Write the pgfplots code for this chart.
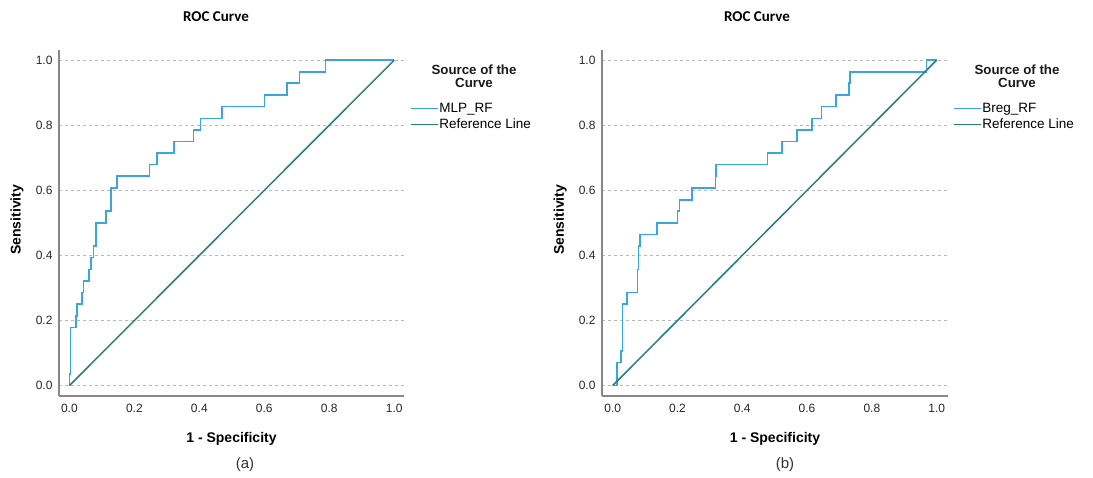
\documentclass[border=0pt]{standalone}
\usepackage{pgfplots}
\pgfplotsset{compat=1.18}
\usepackage{fontspec}
\setmainfont{Liberation Sans}
\newfontfamily\carlito{Carlito}

\definecolor{rocblue}{RGB}{58,166,222}
\definecolor{refteal}{RGB}{36,128,124}
\definecolor{axgray}{RGB}{135,135,135}

\pgfplotsset{
  rocaxis/.style={
    scale only axis,
    width=345pt, height=346pt,
    anchor=south west,
    axis x line*=bottom, axis y line*=left,
    axis line style={axgray, line width=1.1pt, -},
    major tick length=0pt,
    xtick={0,0.2,...,1.0}, ytick={0,0.2,...,1.0},
    ymin=-0.032, ymax=1.031,
    ymajorgrids,
    grid style={gray!55, line width=0.7pt, dash pattern=on 3pt off 3pt},
    /pgf/number format/assume math mode=true,
    /pgf/number format/.cd, fixed, fixed zerofill, precision=1, /pgfplots/.cd,
    tick label style={font=\fontsize{12}{14}\selectfont, black!85},
    xticklabel style={yshift=-5pt},
    yticklabel style={xshift=-3pt},
    label style={font=\bfseries\fontsize{14}{16}\selectfont},
    xlabel style={at={(axis description cs:0.5,-0.124)}, anchor=center},
    ylabel style={at={(axis description cs:-0.122,0.509)}, anchor=center, rotate=0},
    xlabel={1 - Specificity}, ylabel={Sensitivity},
    every axis title shift=0pt,
    title style={font=\carlito\bfseries\fontsize{15}{17}\selectfont, anchor=center},
    title={ROC Curve},
    legend style={draw=none, fill=none, anchor=north west, inner sep=0pt,
      row sep=1pt, font=\fontsize{13.5}{15}\selectfont,
      nodes={inner sep=1pt, text height=10pt, text depth=3pt}},
    legend cell align=left,
    legend image code/.code={\draw[#1, line width=1.3pt] (0pt,0pt) -- (27pt,0pt);},
  },
}

\begin{document}
\begin{tikzpicture}
\path[use as bounding box] (0,0) rectangle (1093pt,477pt);

% (a) MLP_RF
\begin{axis}[rocaxis, at={(59pt,81pt)},
  xmin=-0.032, xmax=1.03,
  title style={at={(axis description cs:0.455,1.095)}},
  legend style={at={(axis description cs:1.017,0.853)}}]
\addplot[rocblue, line width=1.6pt] coordinates {
(0,0) (0,0.036) (0.004,0.036) (0.004,0.179) (0.020,0.179) (0.020,0.214)
(0.024,0.214) (0.024,0.25) (0.038,0.25) (0.038,0.286) (0.043,0.286) (0.043,0.321)
(0.060,0.321) (0.060,0.357) (0.066,0.357) (0.066,0.393) (0.074,0.393) (0.074,0.429)
(0.081,0.429) (0.081,0.5) (0.113,0.5) (0.113,0.536) (0.128,0.536) (0.128,0.607)
(0.146,0.607) (0.146,0.643) (0.246,0.643) (0.246,0.679) (0.269,0.679) (0.269,0.714)
(0.322,0.714) (0.322,0.75) (0.382,0.75) (0.382,0.786) (0.404,0.786) (0.404,0.821)
(0.469,0.821) (0.469,0.857) (0.600,0.857) (0.600,0.893) (0.669,0.893) (0.669,0.929)
(0.708,0.929) (0.708,0.964) (0.788,0.964) (0.788,1) (1,1)};
\addlegendentry{MLP\_RF}
\addplot[refteal, line width=1.5pt] coordinates {(0,0) (1,1)};
\addlegendentry{Reference Line}
\end{axis}

% (b) Breg_RF
\begin{axis}[rocaxis, at={(602pt,81pt)}, width=346pt,
  xmin=-0.033, xmax=1.035,
  ylabel style={at={(axis description cs:-0.121,0.509)}},
  title style={at={(axis description cs:0.448,1.095)}},
  legend style={at={(axis description cs:1.014,0.853)}}]
\addplot[rocblue, line width=1.6pt] coordinates {
(0,0) (0.014,0) (0.014,0.071) (0.026,0.071) (0.026,0.107) (0.030,0.107)
(0.030,0.25) (0.045,0.25) (0.045,0.286) (0.076,0.286) (0.076,0.357) (0.080,0.357)
(0.080,0.429) (0.084,0.429) (0.084,0.464) (0.136,0.464) (0.136,0.5) (0.2,0.5)
(0.2,0.536) (0.206,0.536) (0.206,0.571) (0.245,0.571) (0.245,0.607) (0.317,0.607)
(0.317,0.643) (0.319,0.643) (0.319,0.679) (0.478,0.679) (0.478,0.714) (0.523,0.714)
(0.523,0.75) (0.568,0.75) (0.568,0.786) (0.616,0.786) (0.616,0.821) (0.645,0.821)
(0.645,0.857) (0.689,0.857) (0.689,0.893) (0.730,0.893) (0.730,0.929) (0.732,0.929)
(0.732,0.964) (0.969,0.964) (0.969,1) (1,1)};
\addlegendentry{Breg\_RF}
\addplot[refteal, line width=1.5pt] coordinates {(0,0) (1,1)};
\addlegendentry{Reference Line}
\end{axis}

% legend titles and panel captions
\node[align=center, font=\bfseries\fontsize{13.3}{12.5}\selectfont, black!90] at (474pt,401pt) {Source of the\\Curve};
\node[align=center, font=\bfseries\fontsize{13.3}{12.5}\selectfont, black!90] at (1017pt,401pt) {Source of the\\Curve};
\node[font=\fontsize{15}{17}\selectfont, black!80] at (245pt,12pt) {(a)};
\node[font=\fontsize{15}{17}\selectfont, black!80] at (785pt,12pt) {(b)};
\end{tikzpicture}
\end{document}
